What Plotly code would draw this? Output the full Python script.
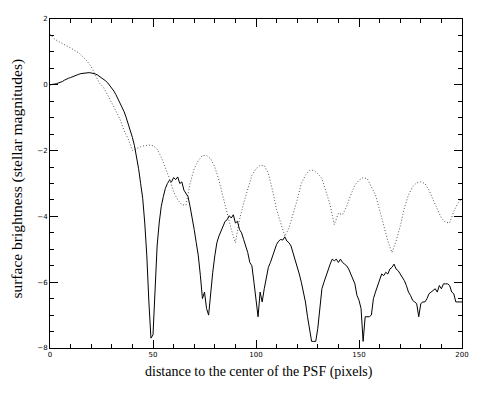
import plotly.graph_objects as go

# solid curve: measured profile, one value per pixel of radius
solid_x = list(range(0, 201))
solid_y = [
    0.0, 0.0, 0.02, 0.03, 0.05, 0.07, 0.1, 0.14, 0.18, 0.2,
    0.22, 0.25, 0.28, 0.3, 0.32, 0.34, 0.35, 0.36, 0.37, 0.37,
    0.36, 0.35, 0.33, 0.3, 0.26, 0.22, 0.17, 0.12, 0.06, -0.02,
    -0.1, -0.19, -0.3, -0.42, -0.55, -0.68, -0.82, -1.0, -1.18, -1.37,
    -1.6, -1.85, -2.15, -2.55, -3.0, -3.45, -4.2, -5.2, -6.6, -7.7,
    -7.6, -6.0, -4.9, -4.2, -3.7, -3.4, -3.15, -3.0, -2.9, -2.95,
    -2.82, -2.88, -2.8, -3.0, -2.95, -3.2, -3.3, -3.4, -3.7, -4.0,
    -4.4, -4.8, -5.2, -5.8, -6.5, -6.3, -6.8, -7.0, -6.3, -5.7,
    -5.2, -4.8, -4.6, -4.45, -4.3, -4.15, -4.1, -3.98, -4.05, -3.95,
    -4.2, -4.15, -4.4, -4.5, -4.7, -4.9, -5.1, -5.4, -5.5, -6.0,
    -6.6, -7.05, -6.3, -6.6, -6.2, -5.9, -5.55, -5.4, -5.2, -5.0,
    -4.85, -4.75, -4.7, -4.72, -4.62, -4.75, -4.8, -4.9, -5.1, -5.3,
    -5.5, -5.75, -6.0, -6.3, -6.6, -7.05, -7.5, -7.8, -7.8, -7.8,
    -7.4, -6.7, -6.2, -6.0, -5.8, -5.6, -5.45, -5.3, -5.35, -5.3,
    -5.4, -5.3, -5.4, -5.45, -5.5, -5.6, -5.75, -5.9, -6.05, -6.4,
    -6.55, -6.8, -7.8, -7.05, -7.05, -7.05, -7.0, -6.5, -6.3, -6.1,
    -5.9, -5.75, -5.8, -5.7, -5.75, -5.6, -5.55, -5.45, -5.6, -5.65,
    -5.75, -5.85, -5.95, -6.1, -6.3, -6.4, -6.55, -6.6, -6.65, -7.05,
    -6.65, -6.6, -6.6, -6.5, -6.35, -6.3, -6.25, -6.2, -6.3, -6.1,
    -6.2, -6.05, -6.05, -6.05, -6.1, -6.3, -6.35, -6.6, -6.6, -6.6,
    -6.6,
]

# dotted curve: model profile, every 2 pixels
dotted_x = list(range(0, 201, 2))
dotted_y = [
    1.55, 1.4, 1.32, 1.26, 1.2, 1.12, 1.04, 0.97, 0.85, 0.72,
    0.55, 0.3, 0.05, -0.08, -0.3, -0.55, -0.8, -1.05, -1.4, -1.65,
    -2.0, -1.93, -1.88, -1.85, -1.83, -1.85, -1.95, -2.2, -2.5, -2.85,
    -3.25, -3.5, -3.65, -3.65, -3.0, -2.55, -2.3, -2.15, -2.15, -2.25,
    -2.5, -2.9, -3.4, -3.95, -4.4, -4.8, -4.1, -3.6, -3.15, -2.75,
    -2.55, -2.45, -2.45, -2.7, -3.2, -3.8, -4.2, -4.6, -4.35, -3.95,
    -3.5, -3.0, -2.75, -2.6, -2.6, -2.7, -2.85, -3.25, -3.65, -4.25,
    -3.9, -3.95, -3.7, -3.35, -3.05, -2.9, -2.82, -2.85, -3.1, -3.35,
    -3.8, -4.3, -4.75, -5.1, -4.75, -4.3, -3.75, -3.35, -3.1, -2.98,
    -2.95, -3.0, -3.2, -3.5, -3.8, -4.05, -4.18, -4.2, -3.85, -3.6,
    -3.45,
]

x_ticks = [0, 50, 100, 150, 200]
y_ticks = [-8, -6, -4, -2, 0, 2]

fig = go.Figure()

fig.add_trace(go.Scatter(x=dotted_x, y=dotted_y, mode='lines',
                         line=dict(color='#555555', width=1, dash='1px,2px')))
fig.add_trace(go.Scatter(x=solid_x, y=solid_y, mode='lines',
                         line=dict(color='black', width=1)))

axis_common = dict(showgrid=False, zeroline=False, showline=True, linecolor='black',
                   linewidth=1, mirror='allticks', ticks='inside', tickcolor='black',
                   ticklen=8, tickfont=dict(family='DejaVu Sans', size=7, color='black'))

fig.update_xaxes(range=[0, 200], tickvals=x_ticks,
                 minor=dict(ticks='inside', dtick=10, ticklen=4, tickcolor='black'),
                 **axis_common)
fig.update_yaxes(range=[-8, 2], tickvals=y_ticks,
                 minor=dict(ticks='inside', dtick=0.5, ticklen=4, tickcolor='black'),
                 **axis_common)

# axis titles as annotations so they sit where the original has them
fig.add_annotation(text='distance to the center of the PSF (pixels)', xref='paper', yref='paper',
                   x=0.508, y=-0.073, yanchor='middle', showarrow=False,
                   font=dict(family='Liberation Serif', size=14, color='black'))
fig.add_annotation(text='surface brightness (stellar magnitudes)', xref='paper', yref='paper',
                   x=-0.08, y=0.515, xanchor='center', yanchor='middle', textangle=-90,
                   showarrow=False,
                   font=dict(family='Liberation Serif', size=15.5, color='black'))

fig.update_layout(width=486, height=399, showlegend=False,
                  margin=dict(l=50, r=24, t=19, b=51),
                  plot_bgcolor='white', paper_bgcolor='white')

# drop the browser's default page margin so the figure starts at the corner
fig.write_html("out.html", config={'displayModeBar': False},
               post_script="document.body.style.margin='0px';")
